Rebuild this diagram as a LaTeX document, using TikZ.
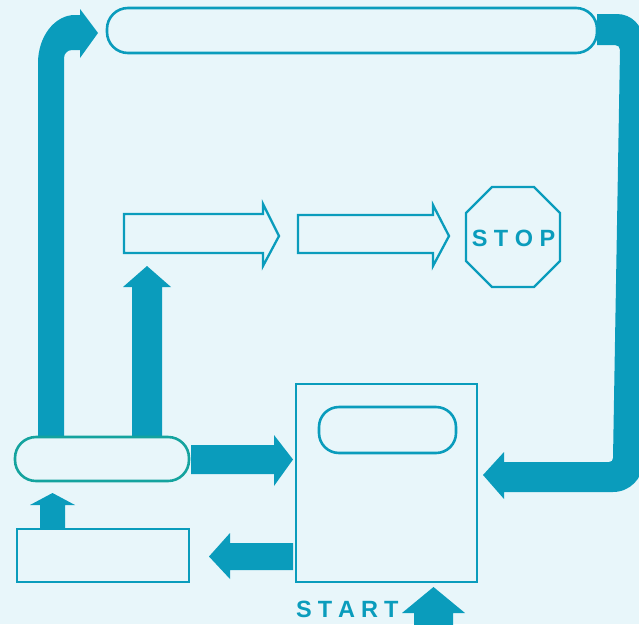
\documentclass[tikz,border=0pt]{standalone}
\usepackage{fontspec}
\setmainfont{Liberation Sans}
\definecolor{bg}{RGB}{232,246,250}
\definecolor{mainblue}{RGB}{10,156,188}
\definecolor{tealbox}{RGB}{20,163,158}
\tikzset{
  blockarrow/.style={fill=mainblue, draw=none},
  outlinebox/.style={draw=mainblue, line width=2.3pt, fill=none},
  outlinearrow/.style={draw=mainblue, line width=2.3pt, fill=none, line join=miter},
  roundbox/.style={draw=mainblue, line width=2.6pt, rounded corners=21pt},
  labeltext/.style={text=mainblue, font=\fontsize{23.5}{24}\selectfont\bfseries, inner sep=0pt}
}
\begin{document}
\begin{tikzpicture}[x=1pt,y=-1pt]
\fill[bg] (0,0) rectangle (639,624);
\useasboundingbox (0,0) rectangle (639,624);
\clip (0,0) rectangle (639,624);

% named boxes
\node[draw=none, inner sep=0pt, minimum width=490pt, minimum height=45pt] (topbox) at (352,30.5) {};
\node[draw=none, inner sep=0pt, minimum width=174pt, minimum height=44pt] (lowround) at (102,459) {};
\node[draw=none, inner sep=0pt, minimum width=172pt, minimum height=53pt] (lowrect) at (103,555.5) {};
\node[draw=none, inner sep=0pt, minimum width=181pt, minimum height=198pt] (bigbox) at (386.5,483) {};
\node[draw=none, inner sep=0pt, minimum width=137pt, minimum height=46pt] (innerbox) at (387.5,430) {};

% top-left bent arrow
\path[blockarrow] (38,437) -- (38,63) .. controls (38,36.5) and (54.6,15) .. (75,15)
  -- (80,15) -- (80,9) -- (98,33) -- (80,58) -- (80,50) -- (72,50)
  .. controls (67.6,50) and (64,53.6) .. (64,58) -- (64,437) -- cycle;

% top-right bent arrow
\path[blockarrow] (597,14) -- (617,14) .. controls (631.4,14) and (643,25.6) .. (643,40)
  -- (643,462) .. controls (643,478.6) and (629.6,492) .. (613,492)
  -- (504,492) -- (504,499) -- (483,475) -- (504,452) -- (504,462)
  -- (609,462) .. controls (611.5,462) and (613,460.5) .. (613,458)
  -- (620,50) .. controls (620,47) and (618,45) .. (615,45) -- (597,45) -- cycle;

% middle up arrow
\path[blockarrow] (132,437) -- (132,287) -- (123,287) -- (147,266) -- (171,287) -- (162,287) -- (162,437) -- cycle;

% right arrow to big box
\path[blockarrow] (191,445) -- (274,445) -- (274,435) -- (293,459.5) -- (274,486) -- (274,474) -- (191,474) -- cycle;

% small up arrow
\path[blockarrow] (40,528) -- (40,505) -- (30,505) -- (52.5,493) -- (75,505) -- (65,505) -- (65,528) -- cycle;

% left arrow from big box
\path[blockarrow] (293,543) -- (230,543) -- (230,533) -- (209,556.5) -- (230,579) -- (230,570) -- (293,570) -- cycle;

% START arrow
\path[blockarrow] (414,630) -- (414,613) -- (402,613) -- (433.5,587) -- (465,613) -- (453,613) -- (453,630) -- cycle;

% boxes
\draw[roundbox] (107,8) rectangle (597,53);
\draw[roundbox, draw=tealbox, rounded corners=21pt] (15,437) rectangle (189,481);
\draw[outlinebox] (17,529) rectangle (189,582);
\draw[outlinebox] (296,384) rectangle (477,582);
\draw[roundbox, rounded corners=20pt] (319,407) rectangle (456,453);

% outline arrows
\draw[outlinearrow] (124,214) -- (263,214) -- (263,204) -- (279,236) -- (263,266) -- (263,253) -- (124,253) -- cycle;
\draw[outlinearrow] (298,215) -- (433,215) -- (433,205) -- (449,236) -- (433,266) -- (433,253) -- (298,253) -- cycle;

% STOP octagon
\draw[outlinearrow] (492,187) -- (534,187) -- (560,213) -- (560,261) -- (534,287) -- (492,287) -- (466,261) -- (466,213) -- cycle;
\node[labeltext, anchor=base] (stop) at (513.5,246) {S\kern6.5pt T\kern6.5pt O\kern6.5pt P};

% START label
\node[labeltext, anchor=base west] (start) at (296,617) {S\kern6pt T\kern6pt A\kern6pt R\kern6pt T};
\end{tikzpicture}
\end{document}
